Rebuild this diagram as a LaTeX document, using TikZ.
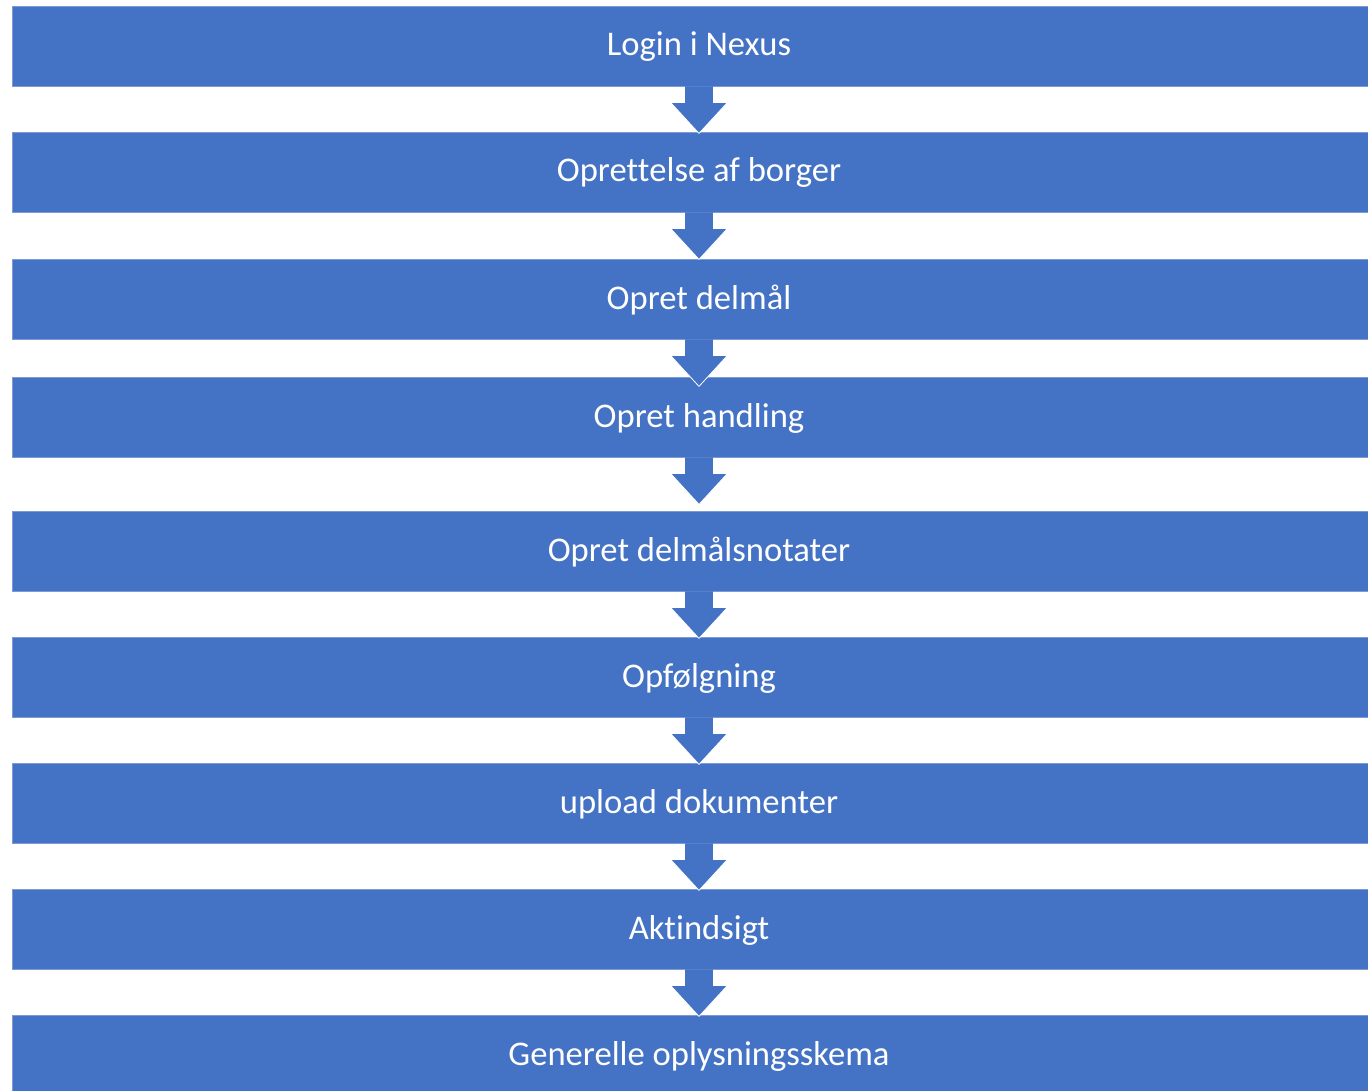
\documentclass[tikz,border=0pt]{standalone}
\usepackage{fontspec}
\setmainfont{Carlito}[RawFeature={-liga;-clig}]
\definecolor{accent}{HTML}{4472C4}
\definecolor{edge}{HTML}{7C9AD6}
\tikzset{
  x=1pt, y=1pt,
  stepbox/.style={fill=accent, draw=edge, line width=0.8pt, minimum width=1374pt, minimum height=80pt,
    inner sep=0pt, text=white, font=\fontsize{34.6}{40}\selectfont, text height=25pt, text depth=5pt},
  arrowfill/.style={fill=accent},
  arrowedge/.style={draw=white, line width=0.8pt, line join=miter},
}
\newcommand{\blockarrow}[1]{%
  \fill[arrowfill] ([xshift=-14.5pt]#1.south) -- ++(0,-16) -- ++(-14,0) -- ([yshift=-47pt]#1.south)
     -- ([xshift=28.5pt,yshift=-16pt]#1.south) -- ++(-14,0) -- ([xshift=14.5pt]#1.south) -- cycle;
  \draw[arrowedge] ([xshift=-14.5pt,yshift=-0.5pt]#1.south) -- ([xshift=-14.5pt,yshift=-16pt]#1.south) -- ++(-14,0) -- ([yshift=-47pt]#1.south)
     -- ([xshift=28.5pt,yshift=-16pt]#1.south) -- ++(-14,0) -- ([xshift=14.5pt,yshift=-0.5pt]#1.south);
}
\begin{document}
\begin{tikzpicture}
\useasboundingbox (0,0) rectangle (1368,-1091);
\fill[white] (0,0) rectangle (1368,-1091);
\node[stepbox] (b1) at (699,-46) {Login i Nexus};
\node[stepbox] (b2) at (699,-172) {Oprett\kern0pt else af borger};
\node[stepbox] (b3) at (699,-299) {Opret delmål};
\node[stepbox] (b4) at (699,-417) {Opret handling};
\node[stepbox] (b5) at (699,-551) {Opret delmålsnotater};
\node[stepbox] (b6) at (699,-677) {Opfølgning};
\node[stepbox] (b7) at (699,-803) {upload dokumenter};
\node[stepbox] (b8) at (699,-929) {Akt\kern0pt indsigt};
\node[stepbox] (b9) at (699,-1055) {Generelle oplysningsskema};
\foreach \n in {b1,b2,b3,b4,b5,b6,b7,b8}{\blockarrow{\n}}
\end{tikzpicture}
\end{document}
